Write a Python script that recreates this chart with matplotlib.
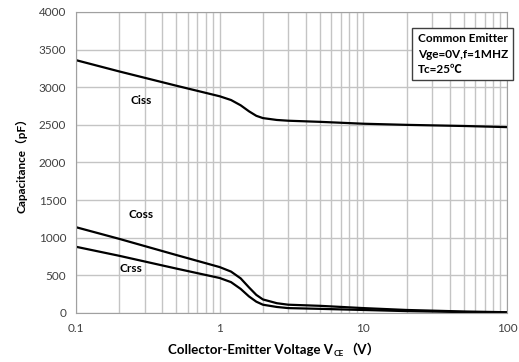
import matplotlib

matplotlib.use('Agg')

import matplotlib.pyplot as plt
from matplotlib import ticker

plt.rcParams['font.family'] = ['Lato', 'DejaVu Sans']

# values
vce = [0.1, 0.2, 0.5, 1.0, 1.2, 1.4, 1.6, 1.8, 2.0, 2.5, 3, 5, 10, 20, 50, 100]
ciss = [3360, 3210, 3020, 2880, 2830, 2760, 2680, 2620, 2590, 2565, 2555, 2540, 2515, 2500, 2485, 2470]
coss = [1140, 985, 770, 610, 550, 460, 340, 240, 180, 130, 110, 95, 65, 40, 20, 10]
crss = [880, 760, 590, 465, 410, 320, 220, 150, 110, 80, 65, 55, 40, 25, 12, 5]

y_ticks = [0, 500, 1000, 1500, 2000, 2500, 3000, 3500, 4000]
x_ticks = [0.1, 1, 10, 100]
x_tick_labels = ['0.1', '1', '10', '100']

CJK = ['Lato', 'Noto Sans CJK SC', 'DejaVu Sans']

fig = plt.figure(figsize=(5.19, 3.62), dpi=100)
ax = fig.add_axes([0.1464, 0.1354, 0.8305, 0.8315])

ax.set_xscale('log')
ax.set_xlim(0.1, 100)
ax.set_ylim(0, 4000)

ax.xaxis.set_major_locator(ticker.FixedLocator(x_ticks))
ax.xaxis.set_major_formatter(ticker.FixedFormatter(x_tick_labels))
ax.xaxis.set_minor_locator(ticker.LogLocator(base=10, subs=range(2, 10)))
ax.xaxis.set_minor_formatter(ticker.NullFormatter())
ax.set_yticks(y_ticks)

ax.grid(True, which='both', color='#c4c4c4', linewidth=1.0)
ax.set_axisbelow(True)
for s in ax.spines.values():
    s.set_color('#a0a0a0')
ax.tick_params(which='both', length=0, labelsize=8.5, colors='#404040', pad=7)

for series in (ciss, coss, crss):
    ax.plot(vce, series, '-', color='black', linewidth=1.6, solid_capstyle='butt')

ax.text(0.285, 2830, 'Ciss', fontsize=8.5, fontweight='bold', ha='center', va='center')
ax.text(0.285, 1310, 'Coss', fontsize=8.5, fontweight='bold', ha='center', va='center')
ax.text(0.24, 590, 'Crss', fontsize=8.5, fontweight='bold', ha='center', va='center')

ax.text(0.793, 0.93, 'Common Emitter\nVge=0V,f=1MHZ\nTc=25\u2103',
        transform=ax.transAxes, fontsize=8.5, fontweight='bold', ha='left', va='top',
        linespacing=1.5, family=CJK,
        bbox=dict(boxstyle='square,pad=0.45', facecolor='white', edgecolor='#404040', linewidth=1.0))

ax.set_ylabel('Capacitance\uff08pF\uff09', fontsize=8.5, fontweight='bold', family=CJK, labelpad=8)

# x label in three pieces so the subscript and the full-width brackets both render
renderer = fig.canvas.get_renderer()
parts = [('Collector-Emitter Voltage V', 9.5, 0), ('CE', 6, -2.5), ('\uff08V\uff09', 9.5, 0)]
widths = []
for txt, size, dy in parts:
    t = fig.text(0, 0, txt, fontsize=size, fontweight='bold', family=CJK)
    widths.append(t.get_window_extent(renderer).width)
    t.remove()
total = sum(widths)
x0 = 274 - total / 2
base_y = 8
for (txt, size, dy), w in zip(parts, widths):
    fig.text(x0 / fig.bbox.width, (base_y + dy) / fig.bbox.height, txt, fontsize=size,
             fontweight='bold', family=CJK, ha='left', va='baseline')
    x0 += w

fig.savefig('out.png', dpi=100)
